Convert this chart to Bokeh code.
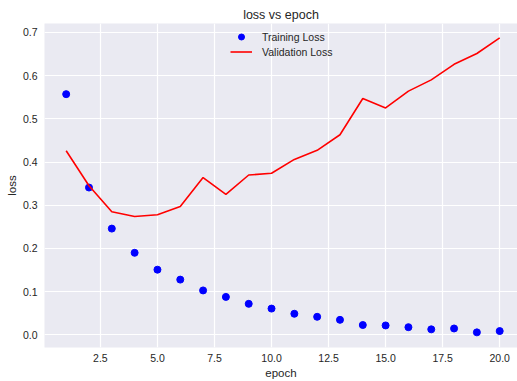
from bokeh.plotting import figure
from bokeh.models import SingleIntervalTicker, PrintfTickFormatter, Legend, LegendItem, Range1d
from bokeh.embed import file_html
from bokeh.resources import INLINE

epochs = [1, 2, 3, 4, 5, 6, 7, 8, 9, 10, 11, 12, 13, 14, 15, 16, 17, 18, 19, 20]
training_loss = [0.557, 0.341, 0.246, 0.190, 0.151, 0.128, 0.103, 0.088, 0.072, 0.061,
                 0.049, 0.042, 0.035, 0.023, 0.022, 0.018, 0.013, 0.015, 0.006, 0.009]
validation_loss = [0.426, 0.345, 0.285, 0.274, 0.278, 0.297, 0.364, 0.325, 0.370, 0.374,
                   0.406, 0.427, 0.463, 0.547, 0.525, 0.564, 0.590, 0.626, 0.651, 0.687]

FONT = "Liberation Sans"
TXT = "#262626"

p = figure(width=517, height=381, output_backend="svg", toolbar_location=None,
           title="loss vs epoch",
           x_range=Range1d(0.05, 20.78), y_range=Range1d(-0.029, 0.7204),
           min_border_left=44, min_border_right=0, min_border_top=23, min_border_bottom=32)

p.background_fill_color = "#EAEAF2"
p.border_fill_color = "white"
p.outline_line_color = None

p.title.align = "center"
p.title.text_font = FONT
p.title.text_font_style = "normal"
p.title.text_font_size = "12.5px"
p.title.text_color = TXT
p.title.standoff = 4

p.xaxis.ticker = SingleIntervalTicker(interval=2.5)
p.yaxis.ticker = SingleIntervalTicker(interval=0.1)
p.xaxis.formatter = PrintfTickFormatter(format="%.1f")
p.yaxis.formatter = PrintfTickFormatter(format="%.1f")
p.xaxis.axis_label = "epoch"
p.yaxis.axis_label = "loss"

for ax in (p.xaxis[0], p.yaxis[0]):
    ax.axis_line_color = None
    ax.major_tick_line_color = None
    ax.minor_tick_line_color = None
    ax.major_tick_out = 0
    ax.major_tick_in = 0
    ax.minor_tick_out = 0
    ax.minor_tick_in = 0
    ax.major_label_text_font = FONT
    ax.major_label_text_font_size = "10.5px"
    ax.major_label_text_color = TXT
    ax.axis_label_text_font = FONT
    ax.axis_label_text_font_size = "11.5px"
    ax.axis_label_text_font_style = "normal"
    ax.axis_label_text_color = TXT
    ax.major_label_standoff = 7
    ax.axis_label_standoff = 2
p.xaxis.major_label_standoff = 6

p.grid.grid_line_color = "white"
p.grid.grid_line_width = 1.2

r_train = p.scatter(epochs, training_loss, size=7, color="blue", line_color="blue")
r_val = p.line(epochs, validation_loss, line_color="red", line_width=1.6)

legend = Legend(items=[LegendItem(label="Training Loss", renderers=[r_train]),
                       LegendItem(label="Validation Loss", renderers=[r_val])],
                location=(186, 288))
legend.background_fill_alpha = 0
legend.border_line_color = None
legend.margin = 0
legend.padding = 4
legend.spacing = 0
legend.glyph_width = 22
legend.glyph_height = 15
legend.label_height = 15
legend.label_standoff = 10
legend.label_text_font = FONT
legend.label_text_font_size = "10.5px"
legend.label_text_color = TXT
p.add_layout(legend, "center")

open("out.html", "w").write(file_html(p, INLINE))
